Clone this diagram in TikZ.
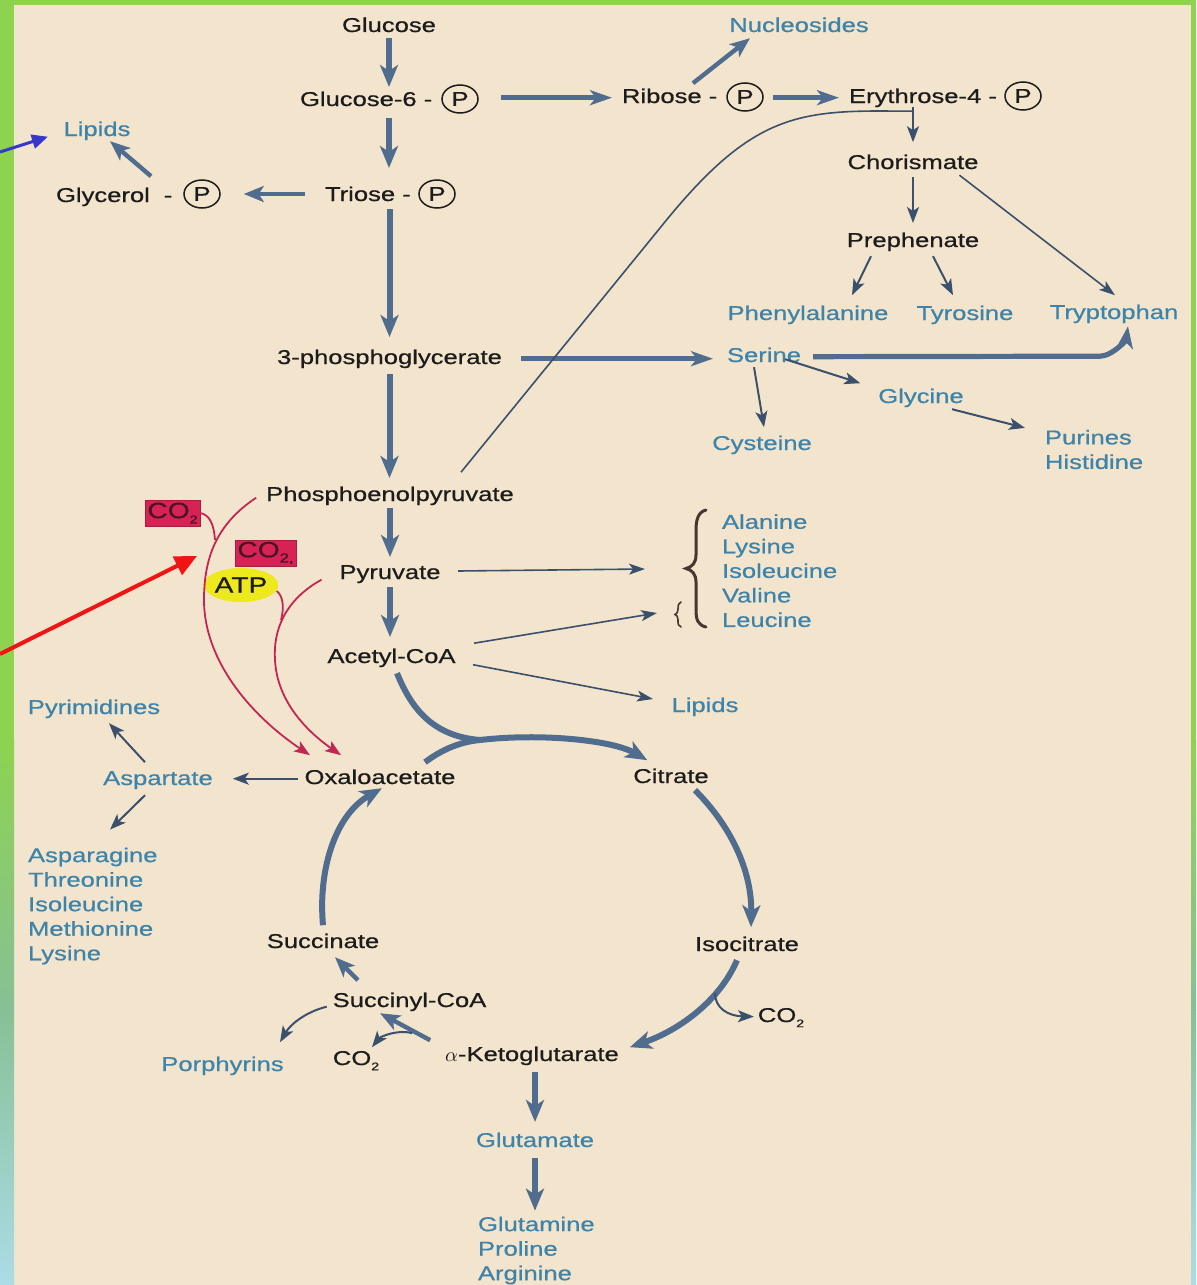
\documentclass[tikz,border=0pt]{standalone}
\usepackage{fontspec}
\setmainfont{Liberation Sans}[FakeStretch=1.28,FakeBold=0.7]
\usetikzlibrary{arrows.meta,shapes.geometric,calc}
\definecolor{bgc}{RGB}{243,229,205}
\definecolor{txt}{RGB}{28,28,28}
\definecolor{bluet}{RGB}{62,132,170}
\definecolor{arrc}{RGB}{80,108,142}
\definecolor{thinc}{RGB}{58,80,108}
\definecolor{crim}{RGB}{196,38,82}
\definecolor{boxred}{RGB}{214,34,84}
\definecolor{boxtxt}{RGB}{70,20,35}
\definecolor{atpy}{RGB}{238,232,30}
\definecolor{greenb}{RGB}{141,211,80}
\definecolor{sageb}{RGB}{135,192,150}
\definecolor{cyanb}{RGB}{172,220,230}
\definecolor{annred}{RGB}{240,20,20}
\definecolor{annblue}{RGB}{55,55,205}
\definecolor{bracec}{RGB}{70,55,48}
\newcommand{\subtwo}{\raisebox{-2.6pt}{\fontsize{5.5pt}{6pt}\selectfont 2}}
\newcommand{\subtwocomma}{\raisebox{-2.6pt}{\fontsize{6.5pt}{7pt}\selectfont 2,}}
\tikzset{
 lbl/.style={inner sep=0pt, outer sep=0pt, text height=7.4pt, text depth=2.1pt, anchor=base, text=txt},
 blbl/.style={lbl, text=bluet},
 blist/.style={inner sep=0pt, outer sep=0pt, anchor=west, align=left, text=bluet},
 pcirc/.style={ellipse, draw=txt, line width=0.75pt, minimum width=18pt, minimum height=14pt, inner sep=0pt, text=txt},
 bigarr/.style={draw=arrc, line width=3pt, -{Stealth[length=11pt,width=9pt,inset=3pt]}},
 harr/.style={draw=arrc, line width=2.5pt, -{Stealth[length=11pt,width=7.5pt,inset=3pt]}},
 midarr/.style={draw=arrc, line width=2.2pt, -{Stealth[length=10pt,width=8pt,inset=2.5pt]}},
 smarr/.style={draw=thinc, line width=1pt, -{Stealth[length=8pt,width=6pt,inset=2pt]}},
 hairarr/.style={draw=thinc, line width=0.8pt, -{Stealth[length=8pt,width=5.5pt,inset=2pt]}},
 redarr/.style={draw=crim, line width=0.9pt, -{Stealth[length=8pt,width=6pt,inset=2pt]}},
 redln/.style={draw=crim, line width=0.9pt},
 co2box/.style={rectangle, fill=boxred, draw=boxred!80!black, line width=0.4pt, inner sep=0pt, minimum height=13pt, text=boxtxt, font=\fontsize{11pt}{12pt}\selectfont},
}
\begin{document}
\begin{tikzpicture}[x=0.5pt,y=-0.5pt,font=\fontsize{10pt}{12.27pt}\selectfont]
\useasboundingbox (0,0) rectangle (1196,1285);
% background and frame
\fill[bgc] (0,0) rectangle (1196,1285);
\fill[greenb] (0,0) rectangle (1196,5);
\fill[greenb] (0,0) rectangle (14,740);
\shade[top color=greenb, bottom color=sageb] (0,740) rectangle (14,1010);
\shade[top color=sageb, bottom color=cyanb] (0,1010) rectangle (14,1285);
\fill[greenb] (1191,0) rectangle (1196,740);
\shade[top color=greenb, bottom color=sageb] (1191,740) rectangle (1196,1010);
\shade[top color=sageb, bottom color=cyanb] (1191,1010) rectangle (1196,1285);

% ---------- black labels ----------
\node[lbl] (glc) at (389,32) {Glucose};
\node[lbl, anchor=base west] (g6) at (300,106) {Glucose-6 -};
\node[pcirc] (p1) at (460,99) {P};
\node[lbl, anchor=base west] (rib) at (622,103) {Ribose -};
\node[pcirc] (p2) at (745,97) {P};
\node[lbl, anchor=base west] (ery) at (849,103) {Erythrose-4 -};
\node[pcirc] (p3) at (1023,96) {P};
\node[lbl, anchor=base west] (tri) at (325,201) {Triose -};
\node[pcirc] (p4) at (437,194) {P};
\node[lbl, anchor=base west] (gly) at (56,202) {Glycerol\hspace{7pt}-};
\node[pcirc] (p5) at (202,194) {P};
\node[lbl] (chor) at (913,169) {Chorismate};
\node[lbl] (preph) at (913,247) {Prephenate};
\node[lbl] (pg3) at (389.5,364) {3-phosphoglycerate};
\node[lbl] (pep) at (390,501) {Phosphoenolpyruvate};
\node[lbl] (pyr) at (390,579) {Pyruvate};
\node[lbl] (acoa) at (391.5,663) {Acetyl-CoA};
\node[lbl] (oaa) at (380,784) {Oxaloacetate};
\node[lbl] (cit) at (671,783) {Citrate};
\node[lbl] (icit) at (747,951) {Isocitrate};
\node[lbl] (succ) at (323,948) {Succinate};
\node[lbl] (scoa) at (409.5,1007) {Succinyl-CoA};
\node[lbl] (akg) at (532,1061) {$\alpha$-Ketoglutarate};
\node[lbl] (co2a) at (781,1022) {CO\subtwo};
\node[lbl] (co2b) at (356,1065) {CO\subtwo};

% ---------- blue labels ----------
\node[blbl] (nuc) at (799,32) {Nucleosides};
\node[blbl] (lip1) at (97,136) {Lipids};
\node[blbl] (phe) at (808,320) {Phenylalanine};
\node[blbl] (tyr) at (965,320) {Tyrosine};
\node[blbl] (trp) at (1114,319) {Tryptophan};
\node[blbl] (ser) at (764,362) {Serine};
\node[blbl] (glyc) at (921,403) {Glycine};
\node[blbl] (cys) at (762,450) {Cysteine};
\node[blist] (pur) at (1045,449.5) {Purines\\Histidine};
\node[blist] (ala) at (722,570.7) {Alanine\\Lysine\\Isoleucine\\Valine\\Leucine};
\node[blbl] (lip2) at (705,712) {Lipids};
\node[blbl] (pyrim) at (94,714) {Pyrimidines};
\node[blbl] (asp) at (158,785) {Aspartate};
\node[blist] (asn) at (28,906) {Asparagine\\Threonine\\Isoleucine\\Methionine\\Lysine};
\node[blbl] (porph) at (222.5,1071) {Porphyrins};
\node[blbl] (glu) at (535,1147) {Glutamate};
\node[blist] (gln) at (478,1250.5) {Glutamine\\Proline\\Arginine};

% ---------- CO2 / ATP tags ----------
\node[co2box, minimum width=27.5pt] (cb1) at (172.5,513) {CO\subtwo};
\node[co2box, minimum width=30.5pt] (cb2) at (265.5,553) {CO\subtwocomma};
\node[ellipse, fill=atpy, inner sep=0pt, minimum width=34pt, minimum height=17pt, text=txt, font=\fontsize{11pt}{12pt}\selectfont] (atp) at (241,585) {ATP};

% ---------- braces ----------
\coordinate (br1) at (696,568.5);
\coordinate (br2) at (678,614.5);
\draw[bracec, line width=1.5pt, line cap=round]
  (706,510) .. controls (698,512) and (696,520) .. (696,530) -- (696,555)
  .. controls (696,563) and (692,567) .. (686,568.5)
  .. controls (692,570) and (696,574) .. (696,582) -- (696,610)
  .. controls (696,620) and (698,625) .. (706,627);
\draw[bracec, line width=0.8pt, line cap=round]
  (681,602) .. controls (678,603) and (678,606) .. (678,609)
  .. controls (678,612) and (677,614) .. (675,614.5)
  .. controls (677,615) and (678,617) .. (678,620)
  .. controls (678,624) and (678,626) .. (681,627);

% ---------- main vertical glycolysis arrows ----------
\draw[bigarr, shorten <=0.9pt, shorten >=2.1pt] (glc.south) -- (glc.south |- g6.north);
\draw[bigarr, shorten <=3.9pt, shorten >=9.1pt] (glc.south |- g6.south) -- (glc.south |- tri.north);
\draw[bigarr, shorten <=1.9pt, shorten >=6.1pt] (pg3.north |- tri.south) -- (pg3.north);
\draw[bigarr, shorten <=2.9pt, shorten >=4.1pt] (pg3.south) -- (pg3.south |- pep.north);
\draw[bigarr, shorten <=1.4pt, shorten >=3.6pt] (pep.south) -- (pyr.north);
\draw[bigarr, shorten <=1.9pt, shorten >=5.6pt] (pyr.south) -- (pyr.south |- acoa.north);

% ---------- pentose branch ----------
\draw[harr, shorten <=11pt, shorten >=5pt] (rib.west -| p1.east) -- (rib.west);
\draw[harr, shorten <=4.5pt, shorten >=5pt] (ery.west -| p2.east) -- (ery.west);
\draw[midarr] ([shift={(71,-5)}]rib.north west) -- ([shift={(-49,2)}]nuc.south);

% ---------- glycerol ----------
\draw[midarr, shorten <=10pt, shorten >=11.5pt] (tri.west |- p4) -- (p5.east);
\draw[midarr] ([shift={(95,-11)}]gly.north west) -- ([shift={(13,1)}]lip1.south);

% ---------- serine family ----------
\draw[harr, shorten <=9.5pt, shorten >=7pt] (pg3.east) -- (pg3.east -| ser.west);
\draw[draw=arrc, line width=2.6pt, -{Stealth[length=11pt,width=8pt,inset=3pt]}, shorten <=6pt]
  (ser.east) -- ([shift={(-14,33)}]trp.south) .. controls +(12,0) and +(-2,14) .. ([shift={(14,3)}]trp.south);
\draw[smarr] ([shift={(21,-7)}]ser.south) -- ([shift={(-18,-5)}]glyc.north west);
\draw[smarr] ([shift={(-10,1)}]ser.south) -- ([shift={(2,-8)}]cys.north);
\draw[smarr] ([shift={(31,2)}]glyc.south) -- ([shift={(-20,-2)}]pur.north west);

% ---------- aromatic branch ----------
\path (chor.north |- ery.south) ++(0,4) coordinate (jn);
\draw[thinc, line width=0.8pt] ([shift={(71,-14)}]pep.north) -- (660,228)
  .. controls (745,122) and (790,111) .. (880,111) -- (jn);
\draw[smarr, shorten >=6pt] (chor.north |- ery.south) -- (chor.north);
\draw[smarr, shorten <=1.9pt, shorten >=4.6pt] (chor.south) -- (preph.north);
\draw[hairarr] ([shift={(-19,2)}]chor.south east) -- ([shift={(1,-9)}]trp.north);
\draw[smarr] ([shift={(-42,5)}]preph.south) -- ([shift={(44,-10)}]phe.north);
\draw[smarr] ([shift={(20,5)}]preph.south) -- ([shift={(-12,-10)}]tyr.north);

% ---------- pyruvate / acetyl-CoA products ----------
\draw[hairarr] ([shift={(17.5,-2.7)}]pyr.east) -- ([shift={(-51,0.5)}]br1);
\draw[hairarr] ([shift={(18.5,-5)}]acoa.north east) -- ([shift={(-21,-1.5)}]br2);
\draw[hairarr] ([shift={(17.5,7)}]acoa.east) -- ([shift={(-18.6,-7.7)}]lip2.west);

% ---------- oxaloacetate / aspartate ----------
\draw[smarr, shorten <=3.5pt, shorten >=10pt] (oaa.west) -- (oaa.west -| asp.east);
\draw[smarr] ([shift={(-13,-8)}]asp.north) -- ([shift={(15,5)}]pyrim.south);
\draw[smarr] ([shift={(-13,6)}]asp.south) -- ([shift={(82,-18)}]asn.north west);

% ---------- anaplerotic red arrows ----------
\draw[redarr] ([shift={(-10,2)}]pep.west) .. controls (215,525) and (204,560) .. (204,600)
  .. controls (204,660) and (250,715) .. ([shift={(-70,-14)}]oaa.north);
\draw[redln] (cb1.east) .. controls (210,515) and (214,525) .. (215,540);
\draw[redarr] ([shift={(-18,6)}]pyr.west) .. controls (285,600) and (273,630) .. (275,660)
  .. controls (277,700) and (305,730) .. ([shift={(-39,-14)}]oaa.north);
\draw[redln] ([shift={(-2,6)}]atp.east) .. controls (282,595) and (285,605) .. (281,620);

% ---------- citric acid cycle ----------
\coordinate (mrg) at (480,740);
\draw[draw=arrc, line width=3pt] ([shift={(5.5,6)}]acoa.south) .. controls (410,705) and (430,736) .. (mrg);
\draw[draw=arrc, line width=3pt] ([shift={(45,-7)}]oaa.north) .. controls (440,751) and (458,742) .. (mrg);
\draw[bigarr] (mrg) .. controls (540,733) and (612,740) .. ([shift={(14,-8)}]cit.north west);
\draw[bigarr] ([shift={(24,3)}]cit.south) .. controls (730,825) and (752,870) .. ([shift={(4,-9)}]icit.north);
\draw[bigarr] ([shift={(-10,5)}]icit.south) .. controls (720,1000) and (680,1030) .. ([shift={(11,1)}]akg.north east);
\draw[smarr, shorten >=2pt] ([shift={(-32,38)}]icit.south) .. controls (715,1008) and (728,1016) .. (co2a.west);
\draw[midarr] ([shift={(-15,-6)}]akg.north west) -- ([shift={(-29.5,2)}]scoa.south);
\draw[smarr] ([shift={(-33,-13)}]akg.north west) .. controls (397,1029) and (380,1037) .. ([shift={(16,-3)}]co2b.north);
\draw[midarr] ([shift={(-51.5,-12)}]scoa.north) -- ([shift={(12,5)}]succ.south);
\draw[bigarr] ([shift={(0,-8)}]succ.north) .. controls (318,870) and (335,815) .. ([shift={(2,0)}]oaa.south);
\draw[smarr] ([shift={(-6,5)}]scoa.west) .. controls (305,1012) and (290,1025) .. ([shift={(57.5,-14)}]porph.north);
\draw[bigarr, shorten <=3.4pt, shorten >=5.1pt] (glu.north |- akg.south) -- (glu.north);
\draw[bigarr, shorten <=3.4pt, shorten >=3pt] (glu.south) -- (glu.south |- gln.north);

% ---------- annotation arrows ----------
\coordinate (redtail) at (0,654);
\coordinate (redtip) at (197,556);
\draw[annred, line width=2pt, -{Triangle[length=11pt,width=10pt]}] (redtail) -- (redtip);
\coordinate (bluetail) at (0,152);
\draw[annblue, line width=1.5pt, -{Triangle[length=8pt,width=7pt]}] (bluetail) -- ([shift={(-15.6,6)}]lip1.west);
\end{tikzpicture}
\end{document}
